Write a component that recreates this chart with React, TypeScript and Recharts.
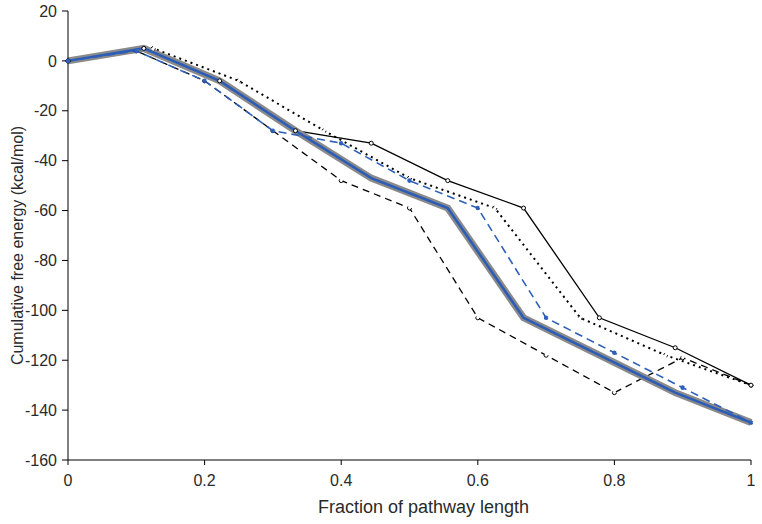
import React from 'react';
import { LineChart, Line, XAxis, YAxis } from 'recharts';

// x positions of each pathway (fraction of length)
const ninthX = [0, 0.111, 0.222, 0.333, 0.444, 0.556, 0.667, 0.778, 0.889, 1];
const tenthX = [0, 0.1, 0.2, 0.3, 0.4, 0.5, 0.6, 0.7, 0.8, 0.9, 1];
const eighthX = [0, 0.125, 0.25, 0.375, 0.5, 0.625, 0.75, 0.875, 1];

// cumulative free energy (kcal/mol)
const mainY = [0, 5, -8, -28, -47, -59, -103, -118, -133, -145];
const blueDashY = [0, 4, -8, -28, -33, -48, -59, -103, -117, -131, -145];
const solidY = [0, 5, -8, -28, -33, -48, -59, -103, -115, -130];
const dottedY = [0, 5, -8, -28, -47, -59, -103, -118, -130];
const dashedY = [0, 4, -8, -28, -48, -59, -103, -118, -133, -119, -130];

const xTicks = [0, 0.2, 0.4, 0.6, 0.8, 1];
const yTicks = [-160, -140, -120, -100, -80, -60, -40, -20, 0, 20];

const zip = (xs: number[], ys: number[]) => xs.map((x, i) => ({ x, y: ys[i] }));

const mainData = zip(ninthX, mainY);
const blueDashData = zip(tenthX, blueDashY);
const solidData = zip(ninthX, solidY);
const dottedData = zip(eighthX, dottedY);
const dashedData = zip(tenthX, dashedY);

const family = '"Liberation Sans", Arial, sans-serif';
const tickFont = { fontFamily: family, fontSize: 16, fill: '#2a2a2a' };
const circle = { r: 2, fill: '#fff', stroke: '#000', strokeWidth: 1 };

export default function App() {
  return (
    <div style={{ position: 'absolute', left: 0, top: 0, background: '#fff' }}>
      <LineChart width={762} height={524} margin={{ top: 11, right: 11, left: 0, bottom: 20 }}>
        <XAxis
          dataKey="x"
          type="number"
          domain={[0, 1]}
          ticks={xTicks}
          tick={tickFont}
          tickSize={5}
          tickMargin={10}
          height={44}
          stroke="#000"
          allowDuplicatedCategory={false}
          label={{
            value: 'Fraction of pathway length',
            position: 'insideBottom',
            offset: -9,
            dx: 14,
            style: { fontFamily: family, fontSize: 18, fill: '#2a2a2a' },
          }}
        />
        <XAxis xAxisId="top" orientation="top" type="number" domain={[0, 1]} tick={false} height={0} stroke="#000" />
        <YAxis
          type="number"
          domain={[-160, 20]}
          ticks={yTicks}
          tick={tickFont}
          tickSize={6}
          tickMargin={5}
          width={68}
          stroke="#000"
          label={{
            value: 'Cumulative free energy (kcal/mol)',
            angle: -90,
            position: 'center',
            dx: -17,
            dy: 10,
            style: { fontFamily: family, fontSize: 16, fill: '#2a2a2a' },
          }}
        />
        <YAxis yAxisId="right" orientation="right" domain={[-160, 20]} tick={false} width={0} stroke="#000" />

        <Line data={dashedData} dataKey="y" type="linear" stroke="#000" strokeWidth={1.3} strokeDasharray="7 5" dot={circle} isAnimationActive={false} />
        <Line data={dottedData} dataKey="y" type="linear" stroke="#000" strokeWidth={2} strokeDasharray="2 4" dot={circle} isAnimationActive={false} />
        <Line data={solidData} dataKey="y" type="linear" stroke="#000" strokeWidth={1.3} dot={circle} isAnimationActive={false} />
        <Line data={mainData} dataKey="y" type="linear" stroke="#8a8a8a" strokeWidth={7} dot={false} isAnimationActive={false} />
        <Line data={mainData} dataKey="y" type="linear" stroke="#2a5cb8" strokeWidth={2.5} dot={false} isAnimationActive={false} />
        <Line data={blueDashData} dataKey="y" type="linear" stroke="#2e5fb8" strokeWidth={1.6} strokeDasharray="8 5" dot={{ r: 1.5, fill: '#2e5fb8', stroke: '#2e5fb8' }} isAnimationActive={false} />
      </LineChart>
    </div>
  );
}
